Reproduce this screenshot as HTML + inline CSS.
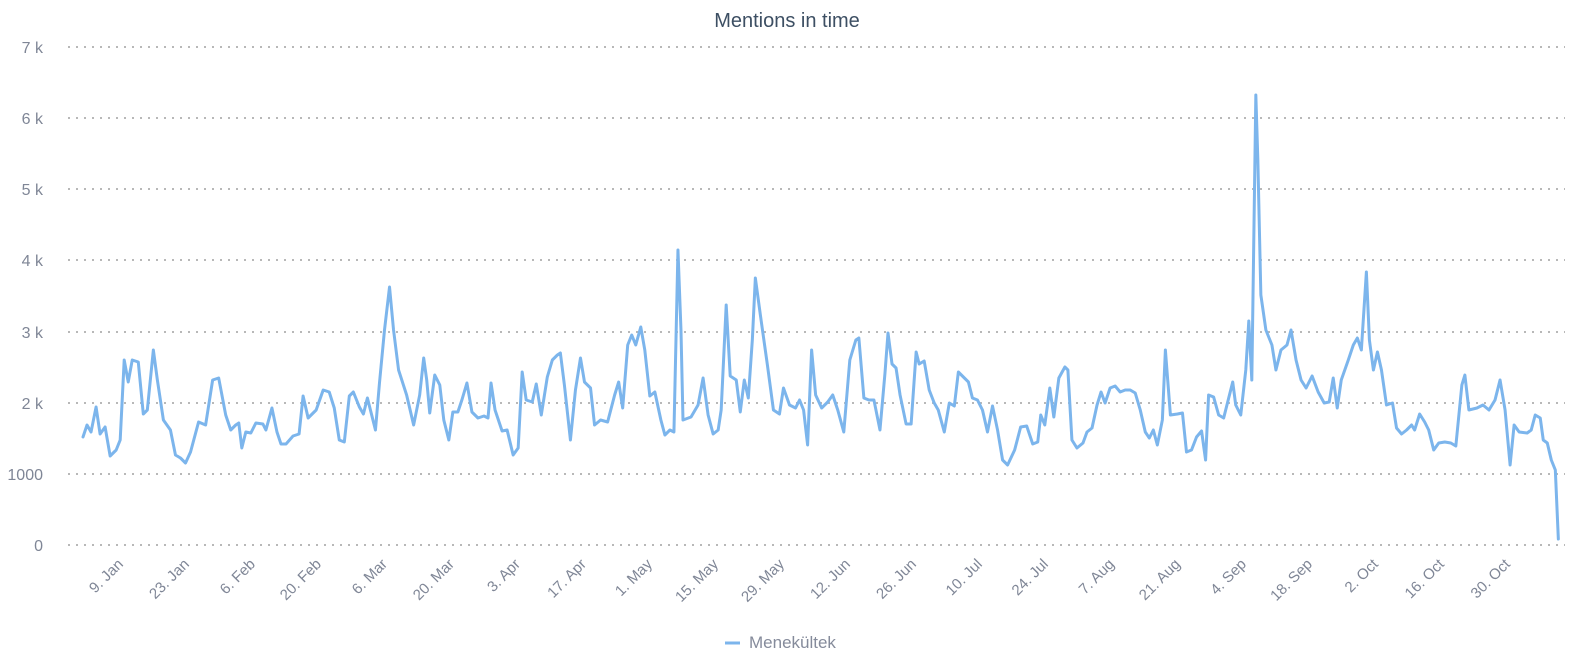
<!DOCTYPE html>
<html><head><meta charset="utf-8"><style>
html,body{margin:0;padding:0;background:#fff;}
svg{display:block;font-family:"Liberation Sans",sans-serif;}
</style></head><body>
<svg width="1574" height="670" viewBox="0 0 1574 670" xmlns="http://www.w3.org/2000/svg">
<text x="787" y="27" text-anchor="middle" font-size="20" fill="#3d4f63">Mentions in time</text>
<g stroke="#b8b8b8" stroke-width="2" stroke-dasharray="2,6">
<line x1="68" x2="1565" y1="47" y2="47"/>
<line x1="68" x2="1565" y1="118" y2="118"/>
<line x1="68" x2="1565" y1="189" y2="189"/>
<line x1="68" x2="1565" y1="260" y2="260"/>
<line x1="68" x2="1565" y1="332" y2="332"/>
<line x1="68" x2="1565" y1="403" y2="403"/>
<line x1="68" x2="1565" y1="474" y2="474"/>
<line x1="68" x2="1565" y1="545" y2="545"/>
</g>
<g font-size="16" fill="#7f8696" text-anchor="end">
<text x="43" y="53">7 k</text>
<text x="43" y="124">6 k</text>
<text x="43" y="195">5 k</text>
<text x="43" y="266">4 k</text>
<text x="43" y="338">3 k</text>
<text x="43" y="409">2 k</text>
<text x="43" y="480">1000</text>
<text x="43" y="551">0</text>
</g>
<g font-size="15" fill="#7f8696" text-anchor="end">
<text transform="translate(124,565) rotate(-45)">9. Jan</text>
<text transform="translate(190,565) rotate(-45)">23. Jan</text>
<text transform="translate(256,565) rotate(-45)">6. Feb</text>
<text transform="translate(322,565) rotate(-45)">20. Feb</text>
<text transform="translate(388,565) rotate(-45)">6. Mar</text>
<text transform="translate(455,565) rotate(-45)">20. Mar</text>
<text transform="translate(521,565) rotate(-45)">3. Apr</text>
<text transform="translate(587,565) rotate(-45)">17. Apr</text>
<text transform="translate(653,565) rotate(-45)">1. May</text>
<text transform="translate(719,565) rotate(-45)">15. May</text>
<text transform="translate(785,565) rotate(-45)">29. May</text>
<text transform="translate(851,565) rotate(-45)">12. Jun</text>
<text transform="translate(917,565) rotate(-45)">26. Jun</text>
<text transform="translate(983,565) rotate(-45)">10. Jul</text>
<text transform="translate(1049,565) rotate(-45)">24. Jul</text>
<text transform="translate(1115,565) rotate(-45)">7. Aug</text>
<text transform="translate(1181,565) rotate(-45)">21. Aug</text>
<text transform="translate(1247,565) rotate(-45)">4. Sep</text>
<text transform="translate(1313,565) rotate(-45)">18. Sep</text>
<text transform="translate(1379,565) rotate(-45)">2. Oct</text>
<text transform="translate(1445,565) rotate(-45)">16. Oct</text>
<text transform="translate(1511,565) rotate(-45)">30. Oct</text>
</g>
<g transform="translate(83,0) scale(1.005,1) translate(-83,0)">
<polyline fill="none" stroke="#7cb5ec" stroke-width="3" stroke-linejoin="round" stroke-linecap="round" vector-effect="non-scaling-stroke" points="
83,437 87,425 91,432 96,407 100,434 105,427 110,456 116,450 120,440 124,360 128,382 132,360 138,362 143,414 147,410 153,350 157,380 163,420 170,430 175,455 180,458 185,463 190,452 198,422 205,425 212,380 218,378 225,415 230,430 235,425 238,423 241,448 245,432 250,433 255,423 262,424 265,430 271,408 276,432 280,444 285,444 292,436 298,434 302,396 307,418 315,410 322,390 328,392 333,408 338,440 343,442 348,396 352,392 358,407 362,414 366,398 370,414 374,430 378,383 383,330 388,287 392,330 397,370 405,395 412,425 418,395 422,358 425,380 428,413 433,375 438,385 442,420 447,440 451,412 456,412 460,400 465,383 470,412 476,418 482,416 486,418 489,383 493,410 500,431 505,430 511,455 516,448 520,372 524,400 530,402 534,384 539,415 545,377 550,360 555,355 558,353 562,385 568,440 573,390 578,358 582,382 588,388 592,425 598,420 605,422 612,395 616,382 620,408 625,345 629,335 633,345 638,327 642,350 647,396 652,392 658,420 662,435 667,430 671,432 675,250 678,330 680,420 688,417 695,405 700,378 705,415 710,434 715,430 718,410 723,305 727,376 733,380 737,412 741,380 745,398 749,340 752,278 757,315 764,365 770,410 776,414 780,388 786,405 792,408 796,400 800,410 804,445 808,350 812,395 818,408 824,402 829,395 834,410 840,432 846,360 852,340 855,338 860,398 865,400 870,400 876,430 881,373 884,333 888,364 892,368 896,395 902,424 907,424 912,352 915,364 920,361 925,390 930,403 934,410 940,432 945,403 950,406 954,372 960,378 964,382 968,398 973,400 978,410 983,432 988,406 993,430 998,460 1003,465 1010,450 1016,427 1022,426 1028,444 1033,442 1036,415 1040,425 1045,388 1049,417 1054,378 1060,367 1063,370 1067,440 1072,448 1078,443 1082,432 1087,428 1092,405 1096,392 1100,403 1105,388 1110,386 1115,392 1120,390 1125,390 1130,393 1135,410 1140,432 1144,438 1148,430 1152,445 1157,420 1160,350 1165,415 1172,414 1177,413 1181,452 1186,450 1191,437 1196,431 1200,460 1203,395 1208,397 1213,415 1218,418 1223,398 1227,382 1230,405 1235,415 1240,370 1243,321 1246,380 1250,95 1252,160 1255,295 1260,330 1266,345 1270,370 1275,350 1281,345 1285,330 1290,360 1295,380 1300,388 1306,376 1312,392 1318,403 1323,402 1327,378 1331,408 1335,380 1342,360 1347,345 1351,338 1355,350 1360,272 1363,340 1367,370 1371,352 1375,370 1380,405 1386,403 1390,428 1395,434 1400,430 1405,425 1408,430 1413,414 1418,422 1422,430 1427,450 1432,443 1438,442 1444,443 1449,446 1455,385 1458,375 1462,410 1470,408 1476,405 1482,410 1488,400 1493,380 1498,410 1503,465 1507,425 1512,432 1520,433 1524,430 1528,415 1533,418 1536,440 1540,443 1544,460 1548,470 1551,539"/>
</g>
<line x1="725" x2="740" y1="643" y2="643" stroke="#7cb5ec" stroke-width="3"/>
<text x="749" y="648" font-size="17" fill="#858b9b">Menekültek</text>
</svg>
</body></html>
